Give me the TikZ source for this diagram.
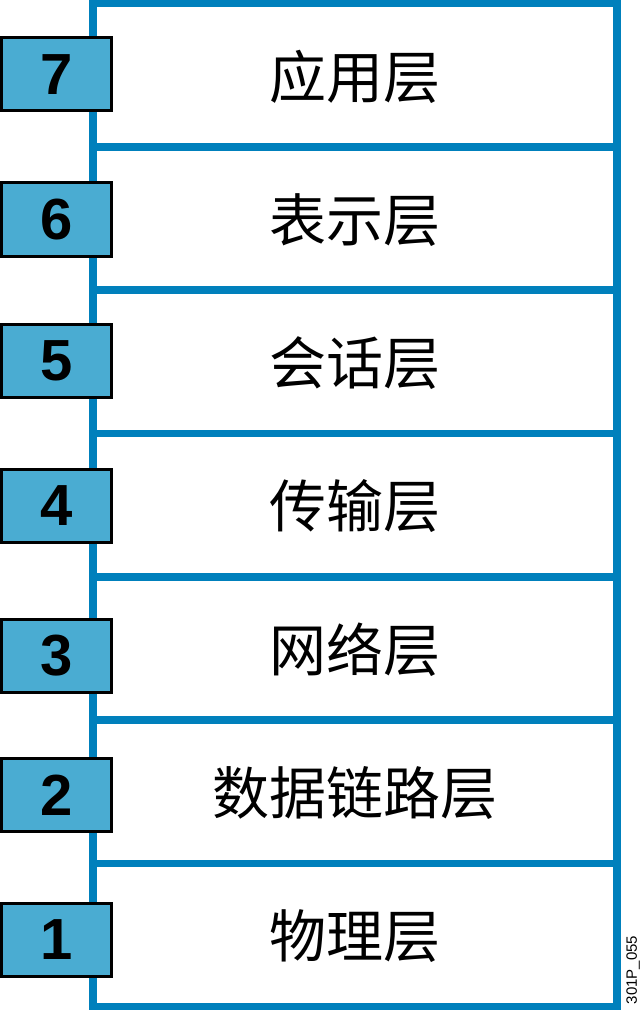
\documentclass[tikz,border=0pt]{standalone}
\usepackage{fontspec}
\setmainfont{Liberation Sans}
\newfontfamily\cjk{Noto Sans CJK SC}
\definecolor{frameblue}{RGB}{0,128,188}
\definecolor{boxblue}{RGB}{74,172,210}
\begin{document}
\begin{tikzpicture}[x=1pt,y=-1pt,
  frameline/.style={draw=frameblue,line width=7.5pt},
  numbox/.style={draw=black,line width=3pt,fill=boxblue,minimum width=110pt,minimum height=73pt,inner sep=0pt,
    font=\fontsize{58}{58}\selectfont\bfseries},
  layertext/.style={font=\cjk\fontsize{57}{57}\selectfont,inner sep=0pt}]
\useasboundingbox (0,0) rectangle (642,1011);
\fill[white] (0,0) rectangle (642,1011);
\draw[frameline] (93,3.7) rectangle (617,1006.3);
\foreach \y in {146.9,290.2,433.5,576.8,720.1,863.4}
  \draw[frameline] (93,\y) -- (617,\y);
\node[layertext] (l7) at (355,77) {应用层};
\node[layertext] (l6) at (355,220) {表示层};
\node[layertext] (l5) at (355,363) {会话层};
\node[layertext] (l4) at (355,506) {传输层};
\node[layertext] (l3) at (355,650) {网络层};
\node[layertext] (l2) at (355,793) {数据链路层};
\node[layertext] (l1) at (355,936) {物理层};
\node[numbox] (n7) at (56.5,74.5) {7};
\node[numbox] (n6) at (56.5,219.5) {6};
\node[numbox] (n5) at (56.5,361) {5};
\node[numbox] (n4) at (56.5,506) {4};
\node[numbox] (n3) at (56.5,656) {3};
\node[numbox] (n2) at (56.5,795) {2};
\node[numbox] (n1) at (56.5,940) {1};
\node[rotate=90,font=\fontsize{15}{15}\selectfont,inner sep=0pt] (code) at (633,970) {301P\_055};
\end{tikzpicture}
\end{document}
